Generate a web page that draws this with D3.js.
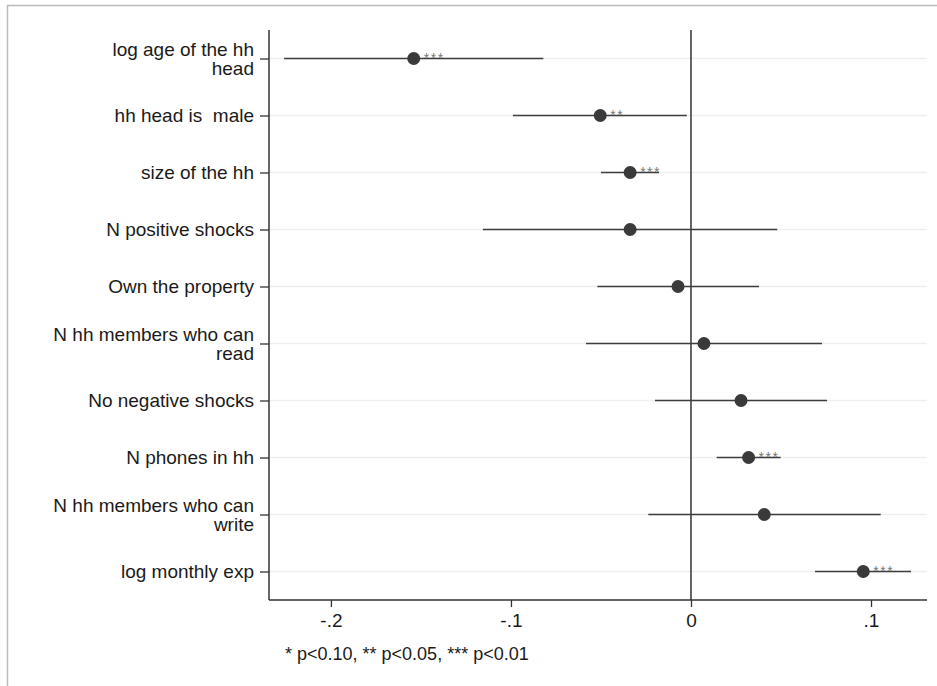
<!DOCTYPE html>
<head>
<style>
body { margin: 0; background: #fff; }
svg { font-family: "Liberation Sans", Arial, sans-serif; }
</style>
<script src="https://d3js.org/d3.v7.min.js"></script>
</head>
<body>
<svg id="coefSvg" width="937" height="686"></svg>
<script>

var width = 937;
var height = 686;

// variable labels, top to bottom (lines split where the original wraps)
var labels = [
    ["log age of the hh", "head"],
    ["hh head is  male"],
    ["size of the hh"],
    ["N positive shocks"],
    ["Own the property"],
    ["N hh members who can", "read"],
    ["No negative shocks"],
    ["N phones in hh"],
    ["N hh members who can", "write"],
    ["log monthly exp"]
];

// point estimates and confidence bounds
var estimates = [-0.154, -0.0504, -0.0338, -0.0338, -0.0072, 0.0072, 0.0278, 0.032, 0.0407, 0.0957];
var lower     = [-0.226, -0.0989, -0.050, -0.1156, -0.052, -0.0583, -0.020, 0.0143, -0.0237, 0.0689];
var upper     = [-0.082, -0.0023, -0.0178, 0.0479, 0.0378, 0.0728, 0.0756, 0.0498, 0.1054, 0.1222];
var stars     = ["***", "**", "***", "", "", "", "", "***", "", "***"];

var xTicks = [-0.2, -0.1, 0, 0.1];
var xTickLabels = ["-.2", "-.1", "0", ".1"];
var note = "* p<0.10, ** p<0.05, *** p<0.01";

var margin = {left: 269, right: 10, top: 30, bottom: 86};

var svg = d3.select("#coefSvg");

// outer frame: only the left and top edges show in the picture
svg.append("path")
    .attr("d", "M7.5,686V5.5H937")
    .style("fill", "none")
    .style("stroke", "#bbbbbb")
    .style("stroke-width", 1.5);

var x = d3.scaleLinear()
    .domain([-0.2344, 0.1311])
    .range([margin.left, width - margin.right]);

var y = d3.scalePoint()
    .domain(d3.range(labels.length))
    .range([margin.top, height - margin.bottom])
    .padding(0.5);

// light horizontal grid at every row
svg.append("g").selectAll("line")
    .data(d3.range(labels.length))
    .enter().append("line")
    .attr("x1", x.range()[0]).attr("x2", x.range()[1])
    .attr("y1", function(i) { return y(i); })
    .attr("y2", function(i) { return y(i); })
    .style("stroke", "#eeeeee")
    .style("stroke-width", 1.5);

// y axis
var yAxis = d3.axisLeft(y).tickSize(9).tickFormat("");
var gy = svg.append("g")
    .attr("transform", "translate(" + margin.left + ",0)")
    .call(yAxis);
gy.select(".domain").style("stroke", "#333").style("stroke-width", 1.5)
    .attr("d", "M0," + margin.top + "V" + (height - margin.bottom));
gy.selectAll(".tick line").style("stroke", "#333").style("stroke-width", 1.3);

// labels, wrapped ones centred around the tick
svg.append("g").selectAll("text")
    .data(labels)
    .enter().append("text")
    .attr("x", margin.left - 15)
    .attr("y", function(d, i) { return y(i); })
    .attr("text-anchor", "end")
    .style("font-size", "19px")
    .style("white-space", "pre")
    .style("fill", "#1a1a1a")
    .each(function(d) {
        var t = d3.select(this);
        var off = -(d.length - 1) * 9.5;
        d.forEach(function(line, k) {
            t.append("tspan")
                .attr("x", margin.left - 15)
                .attr("y", +t.attr("y") + off + k * 19)
                .attr("dy", "0.35em")
                .text(line);
        });
    });

// x axis
var xAxis = d3.axisBottom(x).tickValues(xTicks).tickSize(7)
    .tickFormat(function(d, i) { return xTickLabels[i]; });
var gx = svg.append("g")
    .attr("transform", "translate(0," + (height - margin.bottom) + ")")
    .call(xAxis);
gx.select(".domain").style("stroke", "#333").style("stroke-width", 1.5)
    .attr("d", "M" + x.range()[0] + ",0H" + x.range()[1]);
gx.selectAll(".tick line").style("stroke", "#333").style("stroke-width", 1.3);
gx.selectAll(".tick text")
    .attr("y", 14)
    .style("font-size", "19px")
    .style("font-family", "Liberation Sans, Arial, sans-serif")
    .style("fill", "#1a1a1a");

// reference line at zero
svg.append("line")
    .attr("x1", x(0)).attr("x2", x(0))
    .attr("y1", margin.top).attr("y2", height - margin.bottom)
    .style("stroke", "#333")
    .style("stroke-width", 1.5);

// confidence intervals
svg.append("g").selectAll("line")
    .data(estimates)
    .enter().append("line")
    .attr("x1", function(d, i) { return x(lower[i]); })
    .attr("x2", function(d, i) { return x(upper[i]); })
    .attr("y1", function(d, i) { return y(i); })
    .attr("y2", function(d, i) { return y(i); })
    .style("stroke", "#3d3d3d")
    .style("stroke-width", 1.6);

// point estimates
svg.append("g").selectAll("circle")
    .data(estimates)
    .enter().append("circle")
    .attr("cx", function(d) { return x(d); })
    .attr("cy", function(d, i) { return y(i); })
    .attr("r", 6.5)
    .style("fill", "#3a3a3a");

// significance stars
svg.append("g").selectAll("text")
    .data(estimates)
    .enter().append("text")
    .attr("x", function(d) { return x(d) + 10; })
    .attr("y", function(d, i) { return y(i) + 4; })
    .style("font-size", "14px")
    .style("letter-spacing", "1.5px")
    .style("fill", "#777")
    .text(function(d, i) { return stars[i]; });

// footnote
svg.append("text")
    .attr("x", 285)
    .attr("y", 660)
    .style("font-size", "18px")
    .style("fill", "#1a1a1a")
    .text(note);

</script>
</body>
</html>
